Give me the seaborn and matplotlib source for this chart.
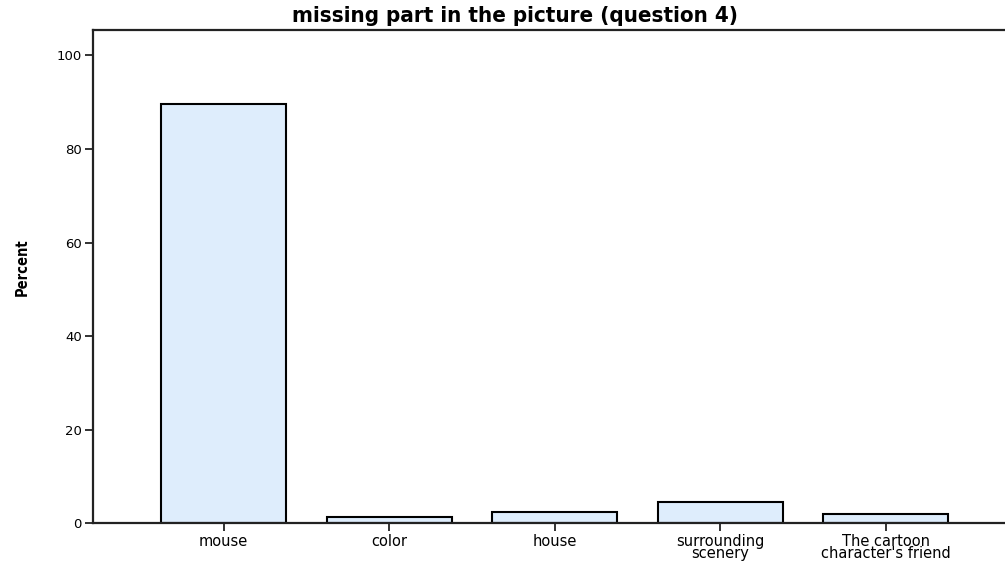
import matplotlib
matplotlib.use("Agg")
import matplotlib.pyplot as plt
import seaborn as sns
import pandas as pd

# Responses: which part was missing in the picture (question 4)
categories = ["mouse", "color", "house", "surrounding\nscenery", "The cartoon\ncharacter's friend"]
percent = [89.5, 1.3, 2.4, 4.5, 2.0]
y_ticks = [0, 20, 40, 60, 80, 100]

df = pd.DataFrame({"answer": categories, "Percent": percent})

sns.set_style("white")
plt.rcParams["font.family"] = ["DejaVu Sans"]
plt.rcParams["text.color"] = "black"
plt.rcParams["xtick.color"] = "black"
plt.rcParams["ytick.color"] = "black"

fig = plt.figure(figsize=(10.05, 5.63), dpi=100)
ax = fig.add_axes([0.0925, 0.0702, 0.9075, 0.8765])

sns.barplot(data=df, x="answer", y="Percent", color="#deedfc", saturation=1,
            edgecolor="black", linewidth=1.5, width=0.755, ax=ax)

ax.set_xlim(-0.79, 4.72)
ax.set_ylim(0, 105.4)
ax.set_yticks(y_ticks)
ax.set_yticklabels([str(t) for t in y_ticks], fontsize=9.5)
ax.tick_params(axis="both", direction="out", length=6, width=1.3, color="#222222",
               left=True, bottom=True, pad=2)
ax.tick_params(axis="x", labelsize=10.5, pad=1.5)
for lbl in ax.get_xticklabels():
    lbl.set_linespacing(0.75)

ax.set_xlabel("")
ax.set_ylabel("")
fig.text(22 / 1005, 1 - 267 / 563, "Percent", rotation=90, ha="center", va="center",
         fontsize=10.5, fontweight="bold", fontstretch="condensed")
fig.text(515 / 1005, 1 - 16 / 563, "missing part in the picture (question 4)",
         ha="center", va="center", fontsize=16, fontweight="bold", fontstretch="condensed")

for side in ["left", "bottom", "top"]:
    ax.spines[side].set_visible(True)
    ax.spines[side].set_color("#222222")
    ax.spines[side].set_linewidth(1.6)
ax.spines["right"].set_visible(False)

fig.savefig("out.png", dpi=100)
